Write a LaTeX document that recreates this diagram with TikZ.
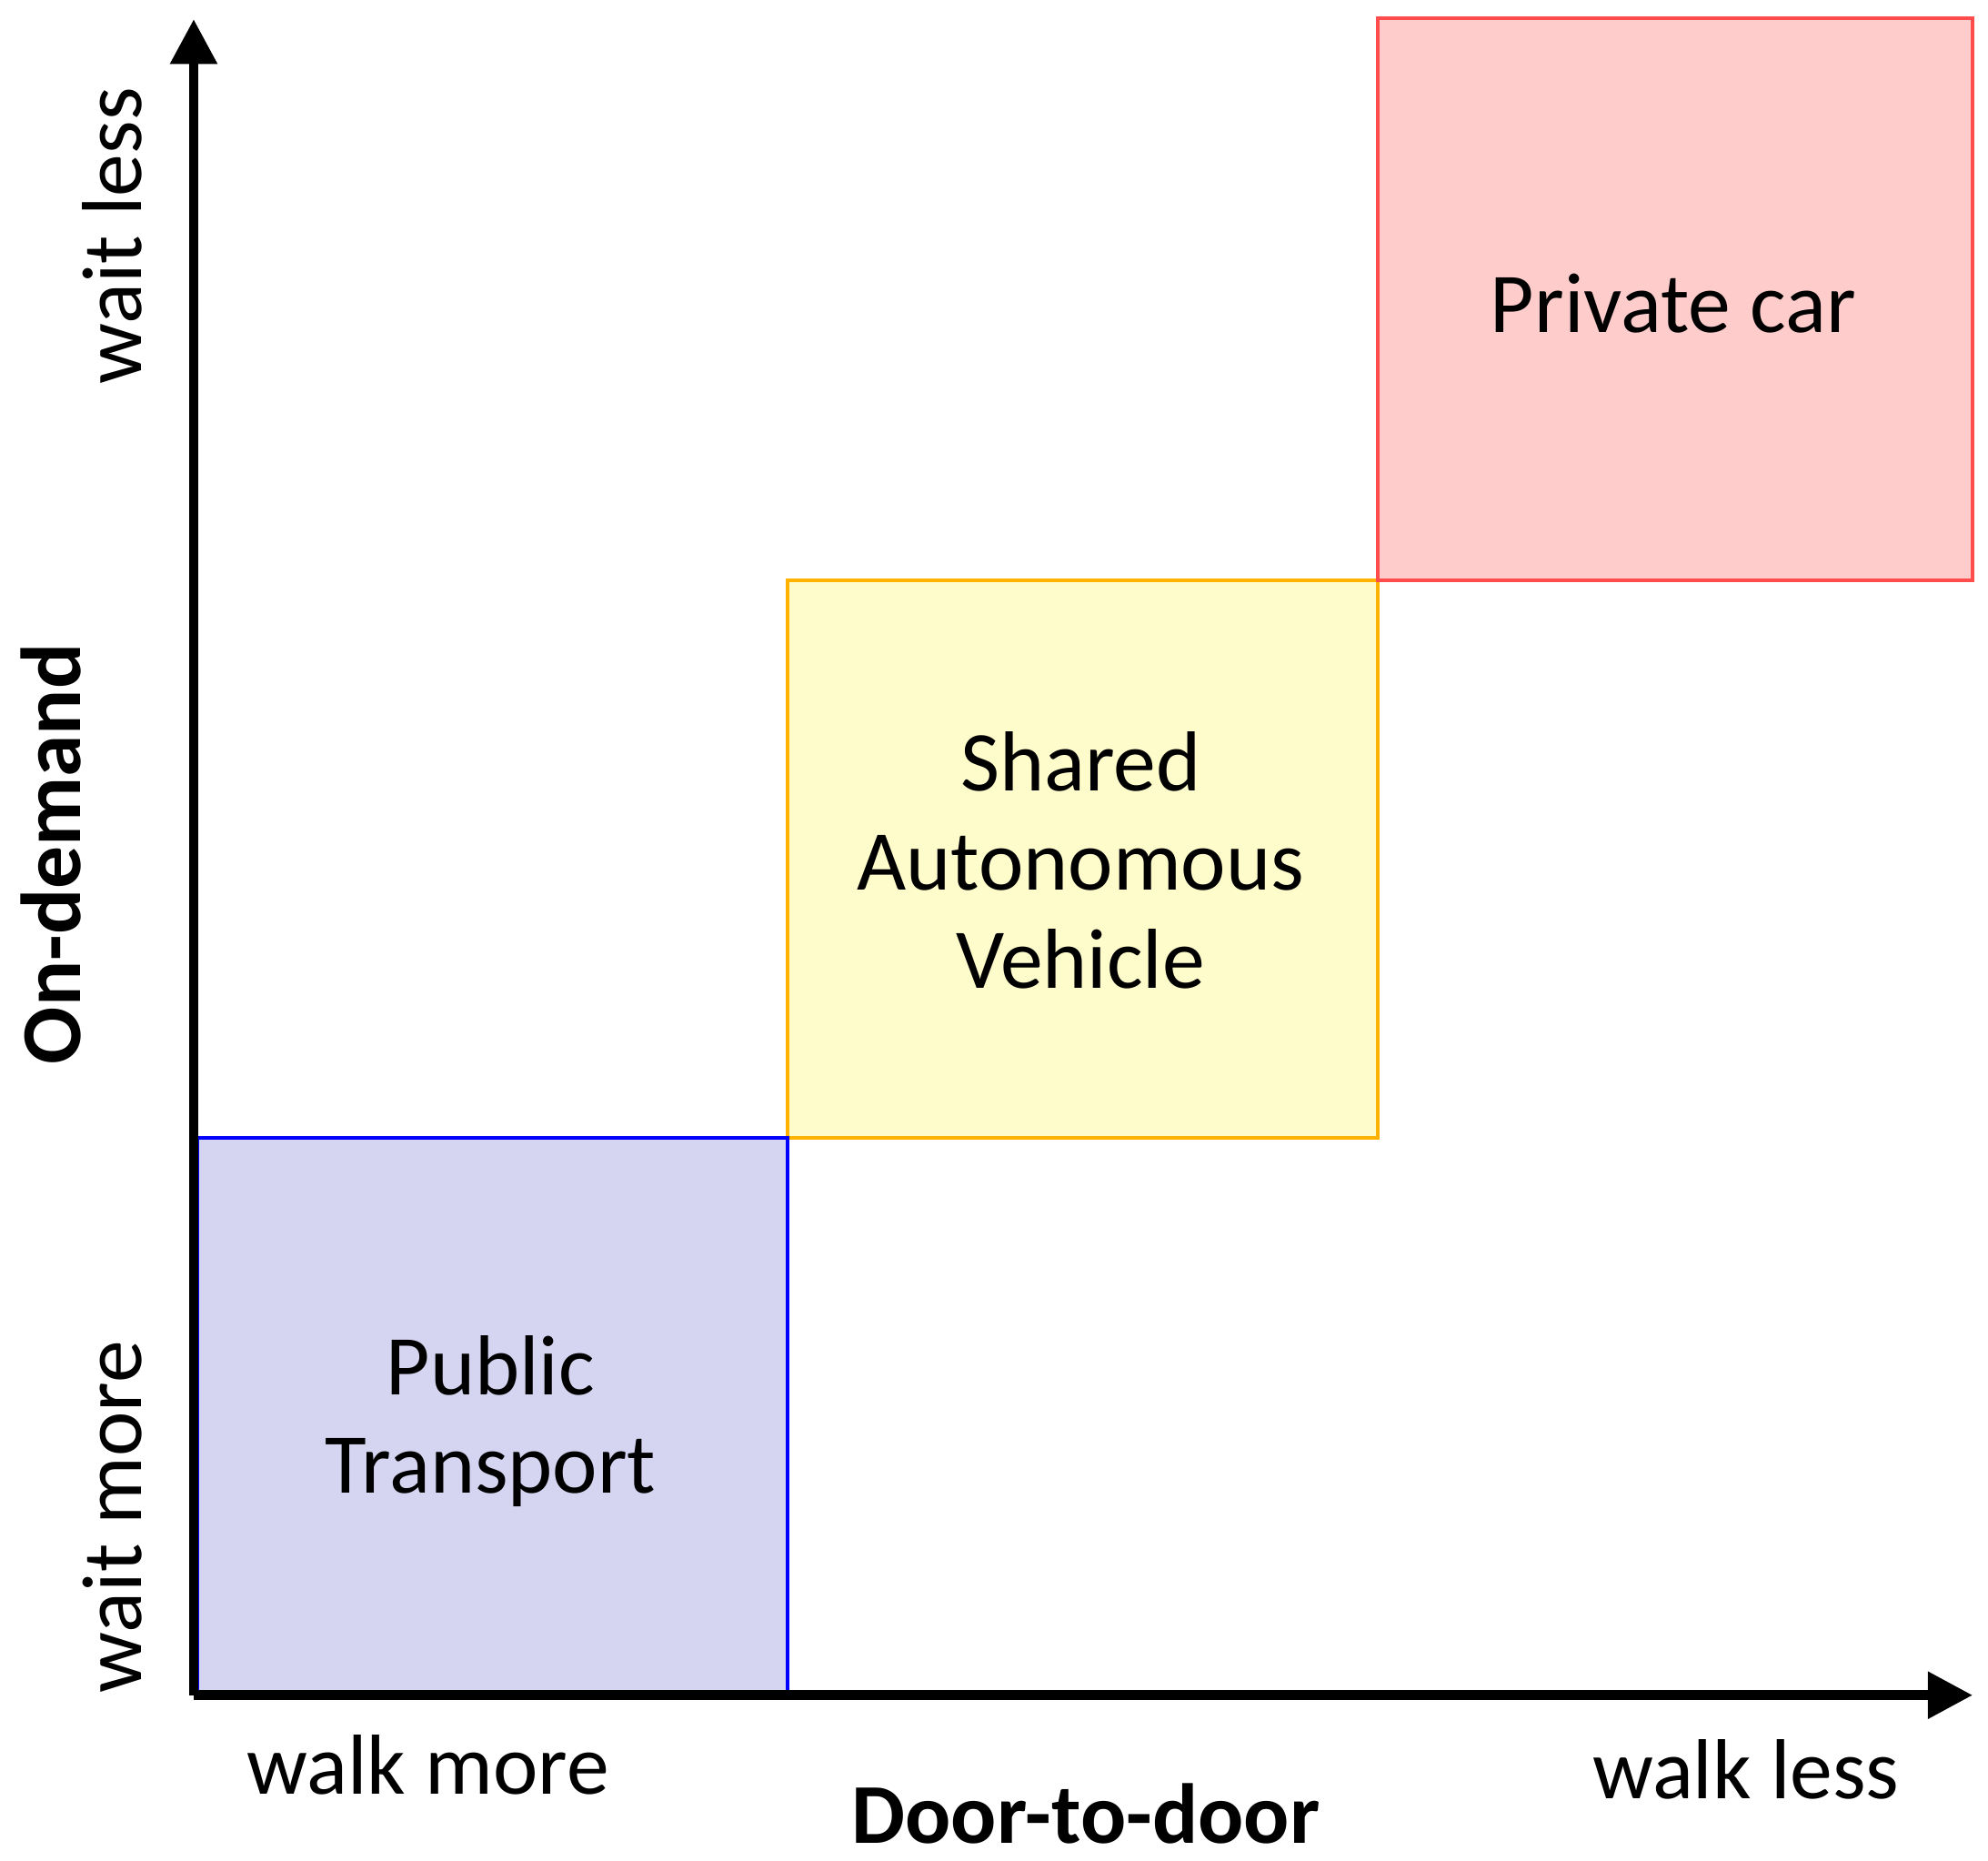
\documentclass[tikz,border=0pt]{standalone}
\usepackage{fontspec}
\setmainfont{Carlito}
\usetikzlibrary{arrows.meta}
\begin{document}
\begin{tikzpicture}[x=0.01cm,y=-0.01cm,
  box/.style={draw,line width=0.8pt,inner sep=0pt},
  lab/.style={font=\fontsize{19}{22}\selectfont},
  blab/.style={font=\fontsize{19}{22}\selectfont\bfseries},
  axis/.style={line width=2.2pt,-{Triangle[length=10pt,width=10pt]}}]
\useasboundingbox (0,0) rectangle (1560,1460);
\fill[fill=blue!12!white!95!black, draw=blue] (155,893) rectangle (618,1330);
\fill[fill=yellow!20] (618,455) rectangle (1081,893);
\draw[draw=orange!60!yellow, line width=0.8pt] (618,455) rectangle (1081,893);
\fill[fill=red!20] (1081,14) rectangle (1548,455);
\draw[draw=red!70, line width=0.8pt] (1081,14) rectangle (1548,455);
\draw[blue, line width=0.8pt] (155,893) rectangle (618,1330);
\coordinate (o) at (152,1330);
\coordinate (yt) at (152,15);
\coordinate (xt) at (1548,1330);
\draw[axis] (o) -- (yt);
\draw[axis] (o) -- (xt);
\node[lab,align=center] (pt) at (385,1115) {Public\\Transport};
\node[lab,align=center] (sav) at (848,675) {Shared\\Autonomous\\Vehicle};
\node[lab] (pc) at (1313,238) {Private car};
\node[lab,rotate=90] (wl) at (88,185) {wait less};
\node[blab,rotate=90] (od) at (40,670) {On-demand};
\node[lab,rotate=90] (wm) at (88,1190) {wait more};
\node[lab] (wkm) at (336,1385) {walk more};
\node[lab] (wkl) at (1370,1388) {walk less};
\node[blab] (dd) at (852,1423) {Door-to-door};
\end{tikzpicture}
\end{document}
